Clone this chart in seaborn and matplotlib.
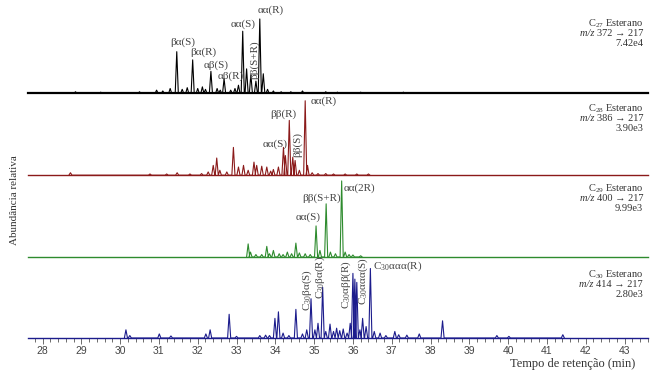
import numpy as np
import pandas as pd
import matplotlib
matplotlib.use("Agg")
import matplotlib.pyplot as plt
from matplotlib.ticker import MultipleLocator
import seaborn as sns

sns.set_style("white")
plt.rcParams['font.family'] = ['Liberation Serif', 'DejaVu Serif']
plt.rcParams['mathtext.fontset'] = 'custom'
plt.rcParams['mathtext.rm'] = 'Liberation Serif'
plt.rcParams['mathtext.it'] = 'Liberation Serif:italic'

c27_tempo = [28.85, 29.5, 30.5, 30.94, 31.1, 31.29, 31.46, 31.6, 31.73, 31.87, 32.0, 32.12,
             32.2, 32.34, 32.5, 32.58, 32.68, 32.85, 32.96, 33.05, 33.16, 33.26, 33.37, 33.5,
             33.6, 33.69, 33.8, 33.95, 34.15, 34.4, 34.7, 35.3, 35.6, 36.2, 37.3]
c27_abund = [2, 1.5, 2, 4, 3, 6, 51, 5, 7, 41, 6, 8,
             5, 27, 6, 4, 18, 4, 6, 10, 76, 30, 23, 15,
             91, 24, 5, 3, 2, 2, 3, 2, 1.5, 1.5, 1.5]

c28_tempo = [28.72, 30.77, 31.2, 31.47, 31.8, 32.1, 32.27, 32.4, 32.49, 32.57, 32.75, 32.92,
             33.05, 33.18, 33.3, 33.45, 33.52, 33.65, 33.78, 33.88, 33.95, 34.08, 34.21, 34.26,
             34.36, 34.45, 34.51, 34.62, 34.77, 34.83, 34.95, 35.1, 35.3, 35.5, 35.8, 36.1, 36.4]
c28_abund = [3, 1.5, 1.5, 3, 1.5, 2, 4, 12, 21, 6, 4, 34,
             10, 12, 6, 16, 12, 11, 10, 5, 7, 10, 34, 24,
             67, 22, 18, 6, 91, 12, 3, 2, 2, 1.5, 1.5, 1.5, 1.5]

c29_tempo = [33.30, 33.36, 33.5, 33.65, 33.78, 33.85, 33.95, 34.1, 34.2, 34.31, 34.42, 34.53,
             34.62, 34.77, 34.9, 35.05, 35.15, 35.31, 35.42, 35.55, 35.71, 35.8, 35.9, 36.0, 36.2]
c29_abund = [16, 6, 3, 3, 13, 4, 8, 4, 3, 6, 4, 17,
             5, 4, 3, 38, 8, 65, 6, 4, 93, 6, 3, 2.5, 1.5]

c30_tempo = [30.15, 30.25, 31.01, 31.31, 32.21, 32.32, 32.81, 33.0, 33.6, 33.75, 33.85, 33.99,
             34.08, 34.2, 34.35, 34.53, 34.7, 34.81, 34.92, 35.02, 35.1, 35.22, 35.3, 35.41,
             35.5, 35.58, 35.66, 35.75, 35.85, 35.93, 36.0, 36.05, 36.1, 36.18, 36.25, 36.34,
             36.45, 36.55, 36.7, 36.85, 37.08, 37.18, 37.39, 37.71, 38.31, 39.71, 40.02, 41.41]
c30_abund = [10, 3, 5, 2.5, 5, 10, 29, 2, 3, 3.5, 3, 24,
             32, 6, 3, 35, 5, 10, 48, 10, 18, 62, 8, 17,
             8, 12, 9, 11, 6, 18, 79, 72, 68, 10, 24, 14,
             85, 8, 6, 3, 8, 4, 3.5, 5, 21, 3, 2, 4]

escalas = ['7.42e4', '3.90e3', '9.99e3', '2.80e3']
ions = ['372', '386', '400', '414']
carbonos = ['27', '28', '29', '30']

# rotulos dos picos: (texto, tempo, altura %, rotacao, alinhamento)
rot_c27 = [('βα(S)', 31.62, 63, 0, 'center'), ('βα(R)', 32.15, 50, 0, 'center'),
           ('αβ(S)', 32.47, 35, 0, 'center'), ('αβ(R)', 32.84, 21, 0, 'center'),
           ('αα(S)', 33.18, 85, 0, 'center'), ('αα(R)', 33.88, 102, 0, 'center'),
           ('ββ(S+R)', 33.45, 41, 90, 'center')]
rot_c28 = [('αα(R)', 35.24, 90, 0, 'center'), ('ββ(R)', 34.21, 75, 0, 'center'),
           ('αα(S)', 33.99, 38, 0, 'center'), ('ββ(S)', 34.58, 37, 90, 'center')]
rot_c29 = [('αα(2R)', 36.16, 84, 0, 'center'), ('ββ(S+R)', 35.20, 72, 0, 'center'),
           ('αα(S)', 34.85, 49, 0, 'center')]
rot_c30 = [('C$_{30}$βα(S)', 34.83, 59, 90, 'center'), ('C$_{30}$βα(R)', 35.15, 74, 90, 'center'),
           ('C$_{30}$αββ(R)', 35.84, 65, 90, 'center'), ('C$_{30}$ααα(S)', 36.27, 70, 90, 'center'),
           ('C$_{30}$ααα(R)', 36.53, 88, 0, 'left')]

paineis = [
    (c27_tempo, c27_abund, rot_c27, 'black', 1.6, 0.85),
    (c28_tempo, c28_abund, rot_c28, '#8b1a1a', 1.0, 0.81),
    (c29_tempo, c29_abund, rot_c29, '#2e8b2e', 1.0, 0.83),
    (c30_tempo, c30_abund, rot_c30, '#1c1c8c', 1.0, 0.77),
]


def traco(tempos, alturas, w=0.04):
    xs, ys = [], []
    for t, h in zip(tempos, alturas):
        xs += [t - w, t, t + w]
        ys += [0, h, 0]
    return pd.DataFrame({'tempo': xs, 'abund': ys})


W, H = 655, 376
fig = plt.figure(figsize=(W / 100, H / 100), dpi=100)
base_px = [93.4, 175.2, 257.0, 338.0]
alt_px = 81.8
cor_txt = '#333333'
for i, (tp, ab, rotulos, cor, lw_base, ytxt) in enumerate(paineis):
    ax = fig.add_axes([28 / W, 1 - base_px[i] / H, 620 / W, alt_px / H])
    ax.set_facecolor('none')
    df = traco(tp, ab)
    sns.lineplot(data=df, x='tempo', y='abund', sort=False, estimator=None,
                 color=cor, lw=0.8, ax=ax, clip_on=False)
    ax.set_xlim(27.626, 43.605)
    ax.set_ylim(0, 100)
    for s in ['top', 'left', 'right']:
        ax.spines[s].set_visible(False)
    ax.spines['bottom'].set_color(cor)
    ax.spines['bottom'].set_linewidth(lw_base)
    ax.set_yticks([])
    ax.set_xlabel('')
    ax.set_ylabel('')
    for txt, t, y, rot, ha in rotulos:
        ax.text(t, y, txt, rotation=rot, ha=ha, va='center', fontsize=8,
                color='#444444', clip_on=False)

    # bloco de texto a direita
    ax.text(0.992, ytxt, f'C$_{{{carbonos[i]}}}$ Esterano', transform=ax.transAxes,
            ha='right', va='center', fontsize=7.5, color=cor_txt)
    t_ion = ax.text(0.992, ytxt - 0.12, f'{ions[i]} → 217', transform=ax.transAxes,
                    ha='right', va='center', fontsize=7.5, color=cor_txt)
    ax.annotate('m/z ', xy=(0, 0.5), xycoords=t_ion, ha='right', va='center',
                fontsize=7.5, fontstyle='italic', color=cor_txt)
    ax.text(0.992, ytxt - 0.24, escalas[i], transform=ax.transAxes,
            ha='right', va='center', fontsize=7.5, color=cor_txt)

    if i < 3:
        ax.set_xticks([])
    else:
        ax.xaxis.set_major_locator(MultipleLocator(1))
        ax.xaxis.set_minor_locator(MultipleLocator(0.2))
        ax.tick_params(axis='x', which='both', bottom=True, direction='out',
                       color='#555555', width=0.6, pad=1.5)
        ax.tick_params(axis='x', which='major', length=4)
        ax.tick_params(axis='x', which='minor', length=3)
        for lab in ax.get_xticklabels():
            lab.set_fontfamily('Liberation Sans')
            lab.set_fontsize(7.5)
            lab.set_color('#444444')

fig.text(635 / W, 1 - 364 / H, 'Tempo de retenção (min)', ha='right', va='center',
         fontsize=9, color=cor_txt)
fig.text(15 / W, 1 - 200 / H, 'Abundância relativa', rotation=90, ha='center',
         va='center', fontsize=8, color=cor_txt)

fig.savefig('out.png', dpi=100)
